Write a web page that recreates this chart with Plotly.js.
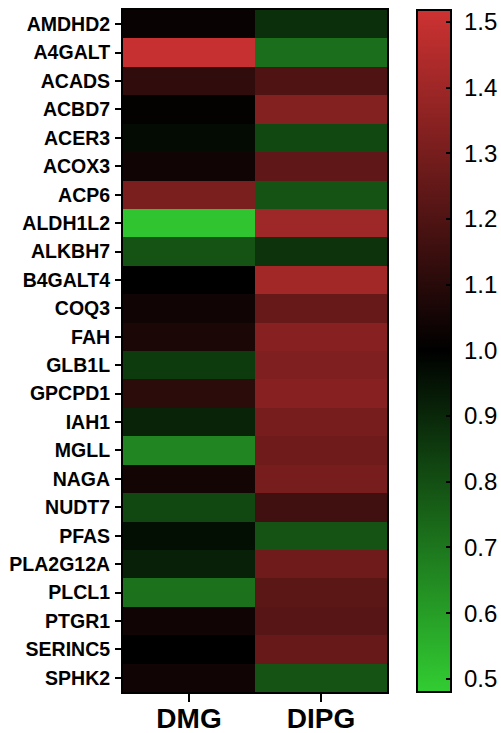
<!DOCTYPE html>
<html>
<head>
<meta charset="utf-8">
<script src="https://cdn.plot.ly/plotly-3.0.1.min.js"></script>
<style>
html,body{margin:0;padding:0;background:#fff;}
#chart{width:501px;height:733px;}
</style>
</head>
<body>
<div id="chart"></div>
<script>
const genes = ["AMDHD2","A4GALT","ACADS","ACBD7","ACER3","ACOX3","ACP6","ALDH1L2","ALKBH7","B4GALT4","COQ3","FAH","GLB1L","GPCPD1","IAH1","MGLL","NAGA","NUDT7","PFAS","PLA2G12A","PLCL1","PTGR1","SERINC5","SPHK2"];
const groups = ["DMG","DIPG"];
const dmg  = [1.02,1.50,1.12,1.01,0.97,1.04,1.31,0.50,0.79,1.00,1.04,1.07,0.85,1.11,0.91,0.66,1.05,0.82,0.96,0.92,0.71,1.04,1.00,1.04];
const dipg = [0.88,0.72,1.20,1.33,0.82,1.24,0.79,1.40,0.87,1.41,1.26,1.34,1.32,1.34,1.30,1.28,1.30,1.16,0.79,1.28,1.23,1.22,1.26,0.79];
const cbTicks = [0.5,0.6,0.7,0.8,0.9,1.0,1.1,1.2,1.3,1.4,1.5];

const z = genes.map((g,i)=>[dmg[i], dipg[i]]);

const trace = {
  type:'heatmap',
  x: groups,
  y: genes,
  z: z,
  zmin: 0.48,
  zmax: 1.518,
  colorscale: [[0,'rgb(50,205,50)'],[0.5,'rgb(0,0,0)'],[1,'rgb(205,50,50)']],
  colorbar:{
    x: 1.114, xanchor:'left', xpad:0,
    y: 0.5, yanchor:'middle', ypad:0,
    len: 682, lenmode:'pixels',
    thickness: 34, thicknessmode:'pixels',
    outlinewidth: 2, outlinecolor:'#000',
    tickvals: cbTicks,
    ticktext: cbTicks.map(v=>'\u00a0'+v.toFixed(1)),
    ticks:'inside', ticklen:6, tickwidth:2, tickcolor:'#000',
    tickfont:{family:'Liberation Sans, Arial, sans-serif', size:24, color:'#000'}
  }
};

const layout = {
  width:501, height:733,
  margin:{l:123, r:114, t:10, b:41, autoexpand:false},
  paper_bgcolor:'#fff', plot_bgcolor:'#fff',
  font:{family:'Liberation Sans, Arial, sans-serif', color:'#000'},
  xaxis:{
    type:'category',
    showline:true, linecolor:'#000', linewidth:2, mirror:true,
    ticks:'outside', ticklen:8, tickwidth:2, tickcolor:'#000',
    tickfont:{size:28, weight:'bold', color:'#000'},
    ticklabelstandoff:-8,
    showgrid:false, zeroline:false, fixedrange:true
  },
  yaxis:{
    type:'category', autorange:'reversed',
    showline:true, linecolor:'#000', linewidth:2, mirror:true,
    ticks:'outside', ticklen:6, tickwidth:2, tickcolor:'#000',
    tickfont:{size:19.5, weight:'bold', color:'#000'},
    ticklabelstandoff:1,
    showgrid:false, zeroline:false, fixedrange:true
  }
};

Plotly.newPlot('chart',[trace],layout,{displayModeBar:false,staticPlot:true});
</script>
</body>
</html>
